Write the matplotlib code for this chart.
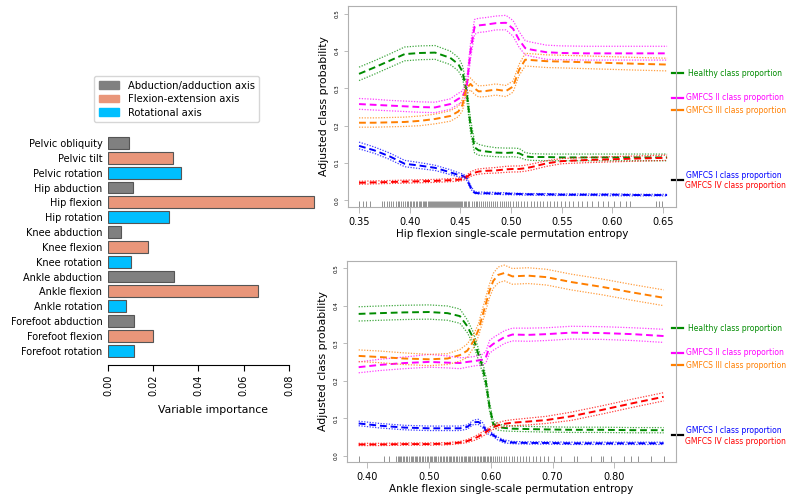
import matplotlib
matplotlib.use("Agg")
import matplotlib.pyplot as plt
from matplotlib.patches import Patch

plt.rcParams['font.family'] = ['DejaVu Sans']

# ---------------- Bar chart data ----------------
variables = ["Pelvic obliquity", "Pelvic tilt", "Pelvic rotation", "Hip abduction",
             "Hip flexion", "Hip rotation", "Knee abduction", "Knee flexion",
             "Knee rotation", "Ankle abduction", "Ankle flexion", "Ankle rotation",
             "Forefoot abduction", "Forefoot flexion", "Forefoot rotation"]
importance = [0.0093, 0.0288, 0.0322, 0.0112, 0.0912, 0.0269, 0.0059, 0.0177,
              0.0101, 0.0290, 0.0663, 0.0081, 0.0114, 0.0200, 0.0115]
axis_type = ["abd", "flex", "rot", "abd", "flex", "rot", "abd", "flex", "rot",
             "abd", "flex", "rot", "abd", "flex", "rot"]
axis_labels = {"abd": "Abduction/adduction axis", "flex": "Flexion-extension axis",
               "rot": "Rotational axis"}
axis_colors = {"abd": "#808080", "flex": "#E9967A", "rot": "#00BFFF"}
bar_ticks = [0.00, 0.02, 0.04, 0.06, 0.08]

# ---------------- Hip flexion panel ----------------
x_hip = [0.350, 0.365, 0.380, 0.395, 0.410, 0.425, 0.440, 0.448, 0.452, 0.456, 0.460, 0.464, 0.468,
         0.475, 0.485, 0.495, 0.502, 0.508, 0.514, 0.520, 0.535, 0.550, 0.575, 0.600, 0.625, 0.654]
hip_healthy = [0.339, 0.356, 0.374, 0.392, 0.395, 0.396, 0.382, 0.365, 0.345, 0.295, 0.200, 0.142, 0.134,
               0.131, 0.128, 0.127, 0.128, 0.126, 0.118, 0.116, 0.116, 0.115, 0.115, 0.115, 0.115, 0.115]
hip_healthy_hi = [0.357, 0.374, 0.392, 0.411, 0.414, 0.415, 0.400, 0.383, 0.362, 0.312, 0.218, 0.158, 0.150,
                  0.145, 0.141, 0.140, 0.140, 0.139, 0.128, 0.125, 0.124, 0.124, 0.124, 0.124, 0.124, 0.124]
hip_healthy_lo = [0.321, 0.338, 0.356, 0.374, 0.377, 0.378, 0.364, 0.347, 0.328, 0.278, 0.182, 0.127, 0.121,
                  0.119, 0.117, 0.116, 0.117, 0.115, 0.109, 0.107, 0.106, 0.106, 0.106, 0.106, 0.106, 0.106]
hip_g2 = [0.258, 0.256, 0.254, 0.252, 0.250, 0.249, 0.258, 0.272, 0.278, 0.300, 0.400, 0.465, 0.469,
          0.471, 0.475, 0.476, 0.460, 0.430, 0.408, 0.404, 0.397, 0.395, 0.394, 0.394, 0.394, 0.394]
hip_g2_hi = [0.273, 0.271, 0.268, 0.266, 0.264, 0.263, 0.272, 0.287, 0.293, 0.318, 0.420, 0.485, 0.488,
             0.490, 0.494, 0.496, 0.482, 0.452, 0.428, 0.424, 0.416, 0.414, 0.413, 0.413, 0.413, 0.413]
hip_g2_lo = [0.244, 0.242, 0.240, 0.238, 0.236, 0.235, 0.244, 0.258, 0.262, 0.282, 0.380, 0.445, 0.450,
             0.452, 0.457, 0.457, 0.440, 0.410, 0.390, 0.386, 0.378, 0.377, 0.376, 0.376, 0.376, 0.376]
hip_g3 = [0.208, 0.208, 0.209, 0.210, 0.213, 0.218, 0.226, 0.238, 0.255, 0.300, 0.312, 0.300, 0.292,
          0.293, 0.297, 0.293, 0.305, 0.350, 0.377, 0.376, 0.373, 0.372, 0.370, 0.368, 0.366, 0.364]
hip_g3_hi = [0.221, 0.221, 0.222, 0.223, 0.226, 0.231, 0.240, 0.252, 0.270, 0.318, 0.328, 0.316, 0.307,
             0.308, 0.312, 0.308, 0.320, 0.365, 0.394, 0.393, 0.390, 0.389, 0.387, 0.385, 0.383, 0.381]
hip_g3_lo = [0.196, 0.196, 0.197, 0.198, 0.200, 0.205, 0.212, 0.224, 0.240, 0.283, 0.296, 0.284, 0.277,
             0.278, 0.282, 0.278, 0.290, 0.335, 0.360, 0.359, 0.356, 0.355, 0.353, 0.351, 0.349, 0.347]
hip_g1 = [0.146, 0.134, 0.118, 0.098, 0.093, 0.087, 0.075, 0.068, 0.066, 0.060, 0.035, 0.020, 0.019,
          0.019, 0.018, 0.018, 0.017, 0.017, 0.016, 0.016, 0.016, 0.015, 0.015, 0.015, 0.014, 0.014]
hip_g1_hi = [0.156, 0.143, 0.127, 0.107, 0.101, 0.094, 0.082, 0.074, 0.071, 0.065, 0.040, 0.023, 0.022,
             0.022, 0.021, 0.020, 0.019, 0.019, 0.018, 0.018, 0.018, 0.017, 0.017, 0.017, 0.016, 0.016]
hip_g1_lo = [0.138, 0.126, 0.110, 0.090, 0.085, 0.080, 0.069, 0.063, 0.061, 0.055, 0.031, 0.018, 0.017,
             0.017, 0.016, 0.015, 0.015, 0.014, 0.014, 0.014, 0.013, 0.013, 0.013, 0.012, 0.012, 0.012]
hip_g4 = [0.047, 0.048, 0.049, 0.050, 0.051, 0.052, 0.054, 0.055, 0.057, 0.062, 0.070, 0.074, 0.077,
          0.079, 0.080, 0.083, 0.084, 0.084, 0.086, 0.089, 0.099, 0.105, 0.108, 0.110, 0.112, 0.114]
hip_g4_hi = [0.051, 0.052, 0.053, 0.054, 0.055, 0.056, 0.058, 0.059, 0.061, 0.067, 0.076, 0.081, 0.084,
             0.086, 0.088, 0.091, 0.092, 0.092, 0.094, 0.097, 0.106, 0.112, 0.115, 0.117, 0.119, 0.121]
hip_g4_lo = [0.043, 0.044, 0.045, 0.046, 0.047, 0.048, 0.050, 0.051, 0.053, 0.057, 0.064, 0.068, 0.070,
             0.072, 0.073, 0.075, 0.076, 0.076, 0.078, 0.081, 0.091, 0.098, 0.101, 0.103, 0.105, 0.107]
hip_rug = [0.350, 0.354, 0.357, 0.361,
           0.373, 0.375, 0.378, 0.380, 0.382, 0.384, 0.386, 0.388, 0.389, 0.391, 0.393, 0.395, 0.397,
           0.398, 0.400, 0.401, 0.403, 0.404, 0.406, 0.407, 0.409, 0.410, 0.411, 0.413, 0.414, 0.415,
           0.416, 0.418, 0.419, 0.420, 0.421, 0.422, 0.423, 0.424, 0.425, 0.426, 0.427, 0.428, 0.429,
           0.430, 0.431, 0.432, 0.433, 0.434, 0.435, 0.436, 0.437, 0.438, 0.439, 0.440, 0.441, 0.442,
           0.443, 0.444, 0.445, 0.446, 0.447, 0.448, 0.449, 0.450, 0.451, 0.452, 0.454, 0.455, 0.456,
           0.458, 0.459, 0.461, 0.463, 0.465, 0.466, 0.468, 0.470, 0.472, 0.474, 0.476, 0.478, 0.480,
           0.482, 0.484, 0.486, 0.489, 0.491, 0.493, 0.495, 0.497, 0.499, 0.502, 0.505, 0.507, 0.510,
           0.513, 0.516, 0.520, 0.523, 0.526, 0.529, 0.532, 0.535, 0.538, 0.542, 0.545, 0.549, 0.553,
           0.557, 0.561, 0.566, 0.570, 0.575, 0.580, 0.586, 0.591, 0.596, 0.602, 0.608, 0.613, 0.617,
           0.643, 0.646, 0.649]
hip_ticks = [0.35, 0.40, 0.45, 0.50, 0.55, 0.60, 0.65]

# ---------------- Ankle flexion panel ----------------
x_ank = [0.386, 0.420, 0.460, 0.500, 0.530, 0.550, 0.562, 0.572, 0.580, 0.586, 0.592, 0.598, 0.604,
         0.612, 0.622, 0.635, 0.660, 0.690, 0.730, 0.780, 0.830, 0.880]
ank_healthy = [0.378, 0.380, 0.382, 0.383, 0.380, 0.372, 0.345, 0.312, 0.270, 0.240, 0.197, 0.130, 0.085,
               0.076, 0.074, 0.072, 0.071, 0.070, 0.069, 0.069, 0.068, 0.068]
ank_healthy_hi = [0.397, 0.399, 0.401, 0.402, 0.399, 0.391, 0.362, 0.328, 0.285, 0.255, 0.212, 0.142, 0.093,
                  0.084, 0.081, 0.079, 0.078, 0.077, 0.076, 0.076, 0.075, 0.075]
ank_healthy_lo = [0.359, 0.361, 0.363, 0.364, 0.361, 0.353, 0.328, 0.296, 0.255, 0.225, 0.182, 0.118, 0.077,
                  0.068, 0.066, 0.065, 0.064, 0.063, 0.062, 0.062, 0.061, 0.061]
ank_g2 = [0.236, 0.242, 0.247, 0.250, 0.248, 0.247, 0.250, 0.252, 0.254, 0.256, 0.262, 0.290, 0.298,
          0.306, 0.316, 0.323, 0.322, 0.324, 0.328, 0.327, 0.324, 0.319]
ank_g2_hi = [0.250, 0.257, 0.263, 0.270, 0.266, 0.261, 0.262, 0.264, 0.267, 0.270, 0.278, 0.307, 0.315,
             0.323, 0.333, 0.340, 0.340, 0.341, 0.345, 0.344, 0.341, 0.337]
ank_g2_lo = [0.221, 0.227, 0.232, 0.236, 0.234, 0.232, 0.236, 0.239, 0.241, 0.242, 0.247, 0.273, 0.281,
             0.289, 0.299, 0.306, 0.305, 0.307, 0.311, 0.310, 0.307, 0.302]
ank_g3 = [0.266, 0.263, 0.259, 0.257, 0.259, 0.268, 0.280, 0.305, 0.335, 0.370, 0.405, 0.440, 0.466,
          0.482, 0.487, 0.478, 0.480, 0.476, 0.463, 0.450, 0.435, 0.421]
ank_g3_hi = [0.282, 0.279, 0.274, 0.270, 0.272, 0.283, 0.298, 0.322, 0.352, 0.388, 0.423, 0.458, 0.486,
             0.503, 0.508, 0.499, 0.501, 0.497, 0.484, 0.471, 0.456, 0.442]
ank_g3_lo = [0.251, 0.248, 0.243, 0.240, 0.243, 0.252, 0.262, 0.288, 0.318, 0.352, 0.387, 0.422, 0.446,
             0.461, 0.466, 0.457, 0.459, 0.455, 0.442, 0.429, 0.414, 0.400]
ank_g1 = [0.086, 0.080, 0.075, 0.073, 0.073, 0.073, 0.077, 0.089, 0.090, 0.083, 0.068, 0.060, 0.055,
          0.045, 0.038, 0.035, 0.034, 0.034, 0.033, 0.033, 0.033, 0.033]
ank_g1_hi = [0.092, 0.086, 0.081, 0.079, 0.079, 0.079, 0.082, 0.095, 0.097, 0.090, 0.074, 0.065, 0.059,
             0.049, 0.042, 0.038, 0.037, 0.037, 0.036, 0.036, 0.036, 0.036]
ank_g1_lo = [0.080, 0.074, 0.069, 0.067, 0.067, 0.067, 0.071, 0.083, 0.083, 0.076, 0.062, 0.055, 0.051,
             0.041, 0.034, 0.032, 0.031, 0.031, 0.030, 0.030, 0.030, 0.030]
ank_g4 = [0.030, 0.030, 0.031, 0.031, 0.032, 0.035, 0.039, 0.045, 0.051, 0.057, 0.063, 0.070, 0.076,
          0.081, 0.085, 0.088, 0.091, 0.095, 0.105, 0.122, 0.140, 0.157]
ank_g4_hi = [0.033, 0.033, 0.034, 0.034, 0.035, 0.038, 0.043, 0.050, 0.057, 0.063, 0.069, 0.076, 0.082,
             0.088, 0.093, 0.096, 0.100, 0.105, 0.116, 0.133, 0.151, 0.168]
ank_g4_lo = [0.027, 0.027, 0.028, 0.028, 0.029, 0.032, 0.035, 0.040, 0.045, 0.051, 0.057, 0.064, 0.070,
             0.074, 0.077, 0.080, 0.082, 0.086, 0.094, 0.111, 0.129, 0.146]
ank_rug = [0.387, 0.427, 0.435,
           0.446, 0.449, 0.451, 0.453, 0.455, 0.458, 0.460, 0.462, 0.465, 0.467, 0.470, 0.472, 0.474,
           0.477, 0.479, 0.481, 0.484, 0.486, 0.489, 0.491, 0.493, 0.496, 0.498, 0.501, 0.503, 0.505,
           0.508, 0.510, 0.512, 0.515, 0.517, 0.520, 0.522, 0.524, 0.527, 0.529, 0.532, 0.534, 0.536,
           0.539, 0.541, 0.544, 0.546, 0.548, 0.551, 0.553, 0.556, 0.558, 0.560, 0.563, 0.565, 0.567,
           0.570, 0.572, 0.575, 0.577, 0.579, 0.582, 0.584, 0.587, 0.589, 0.591, 0.594, 0.596, 0.599,
           0.601, 0.604, 0.607, 0.610, 0.614, 0.617, 0.621, 0.625, 0.630, 0.634, 0.638, 0.643, 0.648,
           0.652, 0.657, 0.662, 0.668, 0.673, 0.679,
           0.686, 0.692, 0.703, 0.713, 0.735, 0.740, 0.762, 0.778, 0.781, 0.795, 0.816, 0.827, 0.838,
           0.859, 0.881]
ank_ticks = [0.40, 0.50, 0.60, 0.70, 0.80]

# class proportions (right-hand reference ticks)
prop_healthy = 0.340
prop_g2 = 0.275
prop_g3 = 0.241
prop_g1_g4 = 0.055

y_ticks = [0.0, 0.1, 0.2, 0.3, 0.4, 0.5]

C_GREEN = "#008B00"
C_MAG = "#FF00FF"
C_ORANGE = "#FF7F00"
C_BLUE = "#0000FF"
C_RED = "#FF0000"
SPINE = "#B0B0B0"

fig = plt.figure(figsize=(7.9, 4.99), dpi=100)

# ---------------- Bar chart ----------------
axb = fig.add_axes([108 / 790, 1 - 358.1 / 499, 209.2 / 790, 222.5 / 499])
for s in ["top", "right", "left"]:
    axb.spines[s].set_visible(False)
axb.spines["bottom"].set_position(("outward", 5))
ypos = list(range(len(variables)))
axb.barh(ypos, importance, height=0.8,
         color=[axis_colors[t] for t in axis_type], edgecolor="#555555", linewidth=0.8)
axb.set_ylim(len(variables) - 0.5, -0.5)
axb.set_xlim(0, 0.0925)
axb.set_yticks(ypos)
axb.set_yticklabels(variables, fontsize=7)
axb.tick_params(axis="y", length=0, pad=4)
axb.set_xticks(bar_ticks)
axb.set_xticklabels(["{:.2f}".format(v) for v in bar_ticks], rotation=90, fontsize=7)
axb.tick_params(axis="x", length=4, width=0.8, pad=3)
axb.spines["bottom"].set_bounds(0, 0.08)
axb.set_xlabel("Variable importance", fontsize=7.8, labelpad=6)
handles = [Patch(facecolor=axis_colors[k], edgecolor=axis_colors[k], label=axis_labels[k])
           for k in ["abd", "flex", "rot"]]
fig.legend(handles=handles, loc="upper left", bbox_to_anchor=(94 / 790, 1 - 76 / 499),
           fontsize=7.2, frameon=True, handlelength=2.0, handleheight=0.8, borderpad=0.45,
           labelspacing=0.35, handletextpad=0.9, edgecolor="#cccccc", fancybox=True,
           borderaxespad=0)


def panel(ax, x, series, rug, xticks, xlim, ylim, xlabel):
    for mean, hi, lo, col in series:
        ax.plot(x, hi, color=col, lw=0.9, linestyle=(0, (1, 1.2)), alpha=0.75)
        ax.plot(x, lo, color=col, lw=0.9, linestyle=(0, (1, 1.2)), alpha=0.75)
        ax.plot(x, mean, color=col, lw=1.4, linestyle=(0, (3.5, 2)))
    ax.vlines(rug, 0, 0.03, transform=ax.get_xaxis_transform(), color="black",
              alpha=0.6, lw=0.5)
    ax.set_xlim(*xlim)
    ax.set_ylim(*ylim)
    ax.set_xticks(xticks)
    ax.set_xticklabels(["{:.2f}".format(v) for v in xticks], fontsize=7)
    ax.set_yticks(y_ticks)
    ax.set_yticklabels(["{:.1f}".format(v) for v in y_ticks], fontsize=4, rotation=90,
                       va="center")
    ax.tick_params(axis="x", length=4, width=0.6, color=SPINE, pad=3)
    ax.tick_params(axis="y", length=3, width=0.6, color=SPINE, pad=3)
    for s in ax.spines.values():
        s.set_color(SPINE)
        s.set_linewidth(0.8)
    ax.set_xlabel(xlabel, fontsize=7.5, labelpad=1.5)
    ax.set_ylabel("Adjusted class probability", fontsize=7.8, labelpad=4)
    tr = ax.get_yaxis_transform()
    refs = [(prop_healthy, C_GREEN), (prop_g2, C_MAG), (prop_g3, C_ORANGE), (prop_g1_g4, "black")]
    for val, col in refs:
        ax.plot([0.988, 1.021], [val, val], color=col, lw=1.6, transform=tr, clip_on=False)
    ax.text(1.036, prop_healthy, "Healthy class proportion", color=C_GREEN, fontsize=5.5,
            va="center", ha="left", transform=tr)
    ax.text(1.029, prop_g2, "GMFCS II class proportion", color=C_MAG, fontsize=5.5,
            va="center", ha="left", transform=tr)
    ax.text(1.029, prop_g3, "GMFCS III class proportion", color=C_ORANGE, fontsize=5.5,
            va="center", ha="left", transform=tr)
    ax.annotate("GMFCS I class proportion", xy=(1.03, prop_g1_g4), xycoords=tr,
                xytext=(0, 3.2), textcoords="offset points", color=C_BLUE, fontsize=5.5,
                va="center", ha="left")
    ax.annotate("GMFCS IV class proportion", xy=(1.028, prop_g1_g4), xycoords=tr,
                xytext=(0, -4.3), textcoords="offset points", color=C_RED, fontsize=5.5,
                va="center", ha="left")


ax1 = fig.add_axes([348 / 790, 1 - 207 / 499, 328 / 790, 201 / 499])
panel(ax1, x_hip,
      [(hip_healthy, hip_healthy_hi, hip_healthy_lo, C_GREEN),
       (hip_g2, hip_g2_hi, hip_g2_lo, C_MAG),
       (hip_g3, hip_g3_hi, hip_g3_lo, C_ORANGE),
       (hip_g1, hip_g1_hi, hip_g1_lo, C_BLUE),
       (hip_g4, hip_g4_hi, hip_g4_lo, C_RED)],
      hip_rug, hip_ticks, (0.3391, 0.6628), (-0.018, 0.521),
      "Hip flexion single-scale permutation entropy")

ax2 = fig.add_axes([346.7 / 790, 1 - 462 / 499, 329.3 / 790, 201 / 499])
panel(ax2, x_ank,
      [(ank_healthy, ank_healthy_hi, ank_healthy_lo, C_GREEN),
       (ank_g2, ank_g2_hi, ank_g2_lo, C_MAG),
       (ank_g3, ank_g3_hi, ank_g3_lo, C_ORANGE),
       (ank_g1, ank_g1_hi, ank_g1_lo, C_BLUE),
       (ank_g4, ank_g4_hi, ank_g4_lo, C_RED)],
      ank_rug, ank_ticks, (0.3666, 0.900), (-0.0168, 0.519),
      "Ankle flexion single-scale permutation entropy")

fig.savefig("out.png", dpi=100)
